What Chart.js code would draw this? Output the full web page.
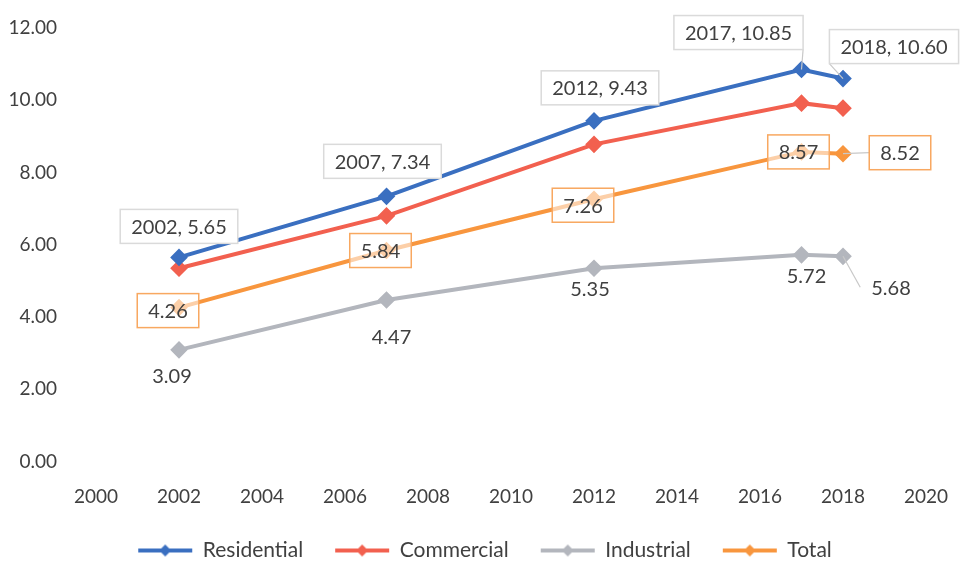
<!DOCTYPE html>
<html>
<head>
<meta charset="utf-8">
<script src="https://cdn.jsdelivr.net/npm/chart.js@4.4.1/dist/chart.umd.min.js"></script>
<style>
  html, body { margin: 0; padding: 0; background: #ffffff; }
  #wrap { width: 962px; height: 562px; }
</style>
</head>
<body>
<div id="wrap"><canvas id="chart" width="962" height="562"></canvas></div>
<script>
// data
const years = [2002, 2007, 2012, 2017, 2018];
const residential = [5.65, 7.34, 9.43, 10.85, 10.60];
const commercial = [5.35, 6.80, 8.78, 9.92, 9.78];
const industrial = [3.09, 4.47, 5.35, 5.72, 5.68];
const total = [4.26, 5.84, 7.26, 8.57, 8.52];
const xTicks = [2000, 2002, 2004, 2006, 2008, 2010, 2012, 2014, 2016, 2018, 2020];
const yTicks = [0, 2, 4, 6, 8, 10, 12];

const FONT = 'Lato, "Open Sans", sans-serif';
const TEXT = '#404040';
const colors = {
    residential: '#3a6fc0',
    commercial: '#f2604f',
    industrial: '#b3b6bd',
    total: '#f8963e'
};

// label placement (pixel offsets from each point)
const labelStyles = {
    0: { text: (x, y) => x + ', ' + y.toFixed(2), fill: '#ffffff', border: '#dadada',
         off: [[0, -31], [-4, -35], [6, -33], [-63, -37], [51, -32]], leader: [false, false, false, true, true] },
    2: { text: (x, y) => y.toFixed(2), fill: null, border: null,
         off: [[-7, 26], [5, 37], [-4, 20], [5, 21], [48, 31]], leader: [false, false, false, false, true] },
    3: { text: (x, y) => y.toFixed(2), fill: 'rgba(255,255,255,0.55)', border: '#f8a860',
         off: [[-11, 3], [-6, 0], [-11, 6], [-3, 0], [57, -1]], leader: [false, false, false, false, true] }
};

const dataLabels = {
    id: 'dataLabels',
    afterDatasetsDraw(chart) {
        const ctx = chart.ctx;
        ctx.save();
        ctx.font = '20px ' + FONT;
        ctx.textAlign = 'center';
        ctx.textBaseline = 'middle';
        Object.keys(labelStyles).forEach(di => {
            const st = labelStyles[di];
            const meta = chart.getDatasetMeta(+di);
            meta.data.forEach((pt, i) => {
                const raw = chart.data.datasets[di].data[i];
                const txt = st.text(raw.x, raw.y);
                const cx = pt.x + st.off[i][0];
                const cy = pt.y + st.off[i][1];
                const w = ctx.measureText(txt).width + 22;
                const h = 34;
                if (st.leader[i]) {
                    ctx.strokeStyle = '#c8c8c8';
                    ctx.lineWidth = 1.2;
                    ctx.beginPath();
                    ctx.moveTo(pt.x, pt.y);
                    const ex = cx > pt.x ? cx - w / 2 : cx + w / 2;
                    ctx.lineTo(ex, cy > pt.y + 10 ? cy : (cy < pt.y - 10 ? cy + h / 2 : cy));
                    ctx.stroke();
                }
                if (st.fill) {
                    ctx.fillStyle = st.fill;
                    ctx.fillRect(cx - w / 2, cy - h / 2, w, h);
                }
                if (st.border) {
                    ctx.strokeStyle = st.border;
                    ctx.lineWidth = 1.5;
                    ctx.strokeRect(cx - w / 2, cy - h / 2, w, h);
                }
                ctx.fillStyle = TEXT;
                ctx.fillText(txt, cx, cy + 1);
            });
        });
        ctx.restore();
    }
};

// the legend sits a little right of centre in the reference
const legendShift = {
    id: 'legendShift',
    afterLayout(chart) {
        chart.legend.left += 22;
        chart.legend.right += 22;
    }
};

function legendIcon(color) {
    const c = document.createElement('canvas');
    c.width = 56; c.height = 14;
    const g = c.getContext('2d');
    g.strokeStyle = color;
    g.lineWidth = 4;
    g.beginPath(); g.moveTo(1, 7); g.lineTo(55, 7); g.stroke();
    g.fillStyle = color;
    g.beginPath(); g.moveTo(28, 1); g.lineTo(34, 7); g.lineTo(28, 13); g.lineTo(22, 7); g.closePath(); g.fill();
    return c;
}

function series(label, values, color) {
    return {
        label: label,
        data: years.map((y, i) => ({ x: y, y: values[i] })),
        borderColor: color,
        backgroundColor: color,
        borderWidth: 4,
        pointStyle: 'rectRot',
        pointRadius: 6,
        pointHoverRadius: 6,
        tension: 0
    };
}

new Chart(document.getElementById('chart'), {
    type: 'line',
    data: {
        datasets: [
            series('Residential', residential, colors.residential),
            series('Commercial', commercial, colors.commercial),
            series('Industrial', industrial, colors.industrial),
            series('Total', total, colors.total)
        ]
    },
    options: {
        responsive: false,
        animation: false,
        layout: { padding: { left: 0, right: 36, top: 28, bottom: -9 } },
        plugins: {
            legend: {
                position: 'bottom',
                labels: {
                    usePointStyle: true,
                    pointStyleWidth: 54,
                    color: TEXT,
                    font: { family: FONT, size: 21 },
                    padding: 32,
                    generateLabels(chart) {
                        return chart.data.datasets.map((ds, i) => ({
                            text: ds.label,
                            pointStyle: legendIcon(ds.borderColor),
                            fillStyle: ds.borderColor,
                            strokeStyle: ds.borderColor,
                            lineWidth: 0,
                            datasetIndex: i,
                            fontColor: TEXT
                        }));
                    }
                }
            },
            tooltip: { enabled: false }
        },
        scales: {
            x: {
                type: 'linear',
                min: 2000,
                max: 2020,
                afterBuildTicks: (s) => { s.ticks = xTicks.map(v => ({ value: v })); },
                afterFit: (s) => { s.height = 46.5; s.paddingLeft = 0; s.paddingRight = 0; },
                grid: { display: false },
                border: { display: false },
                ticks: {
                    color: TEXT,
                    font: { family: FONT, size: 19 },
                    padding: 16,
                    maxRotation: 0,
                    callback: (v) => String(v)
                }
            },
            y: {
                min: 0,
                max: 12,
                afterBuildTicks: (s) => { s.ticks = yTicks.map(v => ({ value: v })); },
                afterFit: (s) => { s.width = 96; s.paddingTop = 0; s.paddingBottom = 0; },
                grid: { display: false },
                border: { display: false },
                ticks: {
                    color: TEXT,
                    font: { family: FONT, size: 19 },
                    padding: 31,
                    callback: (v) => v.toFixed(2)
                }
            }
        }
    },
    plugins: [dataLabels, legendShift]
});
</script>
</body>
</html>
